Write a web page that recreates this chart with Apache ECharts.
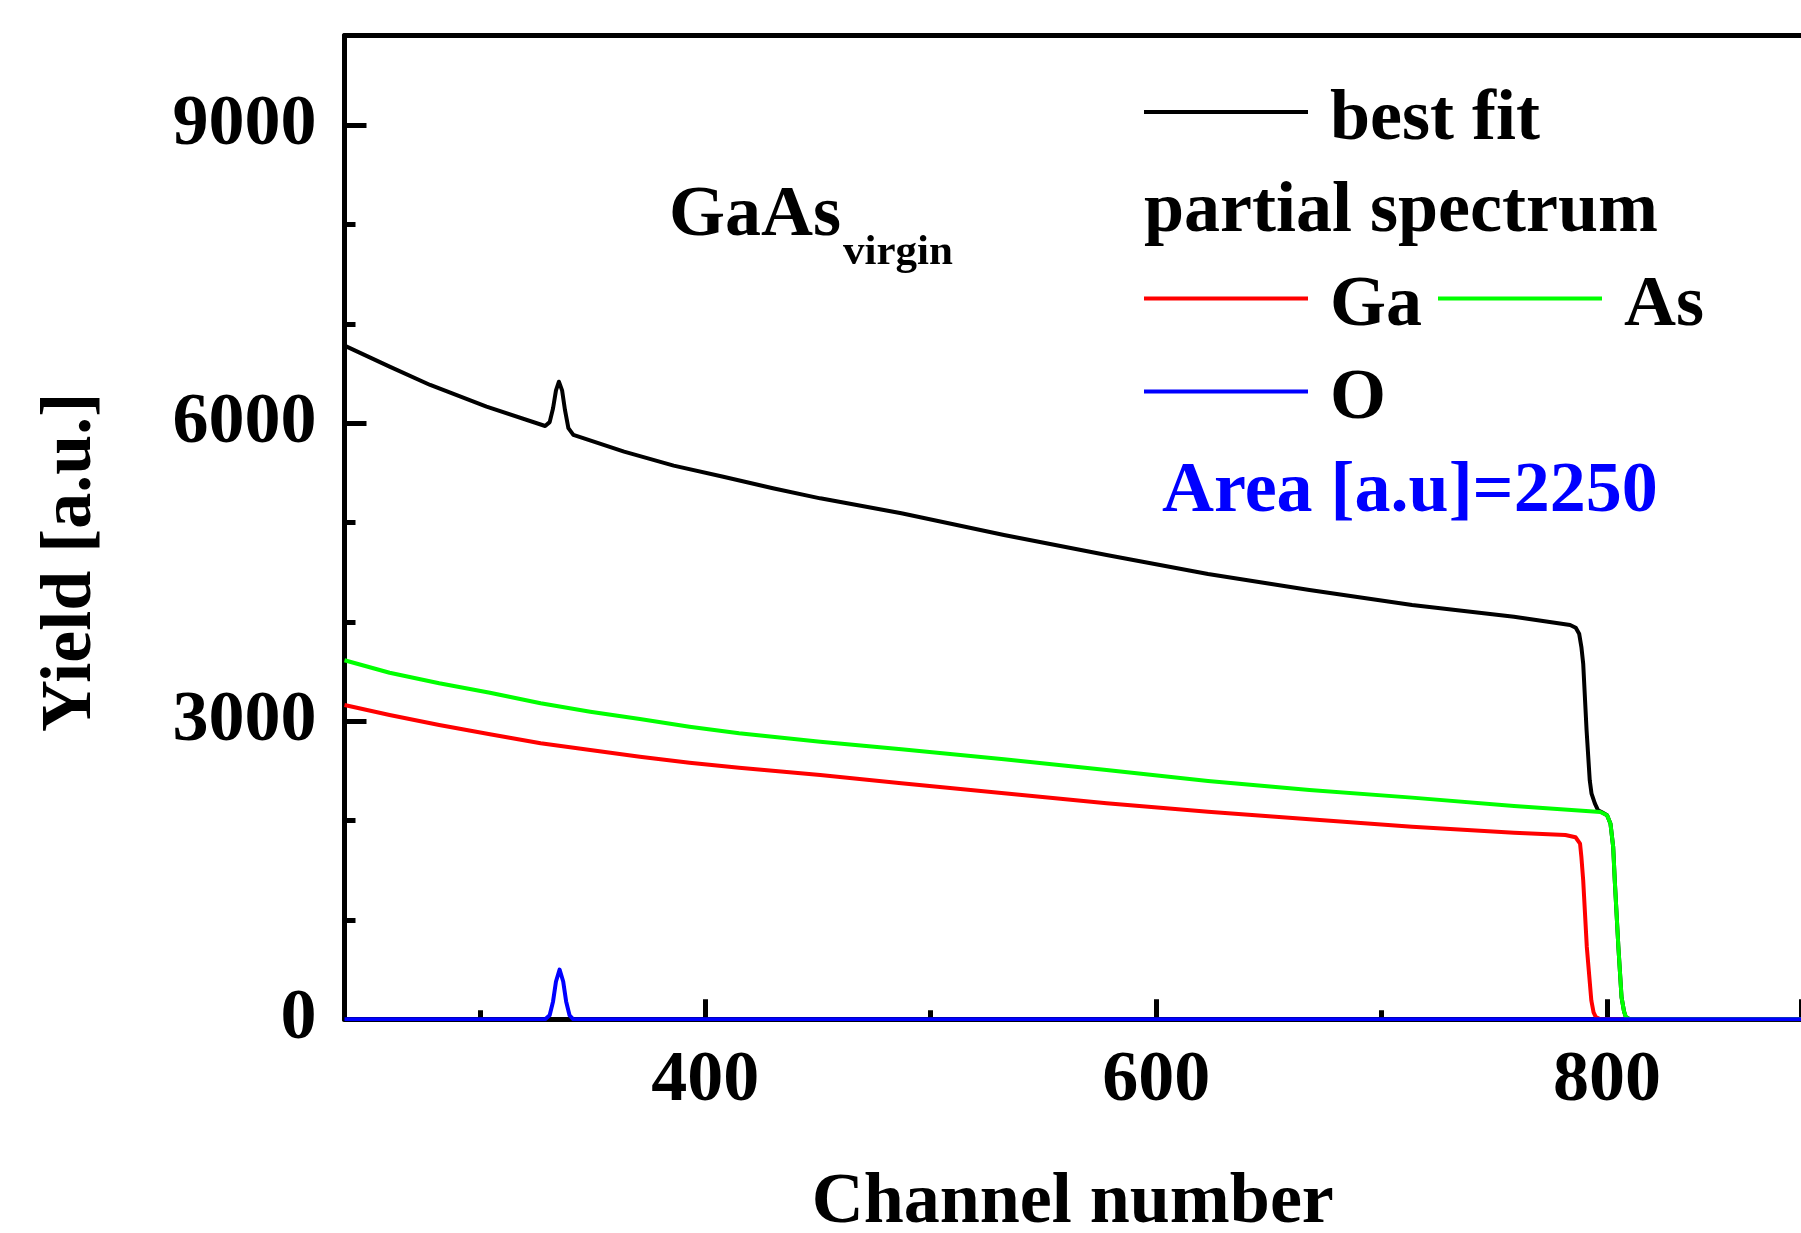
<!DOCTYPE html>
<html>
<head>
<meta charset="utf-8">
<script src="https://cdn.jsdelivr.net/npm/echarts@6/dist/echarts.min.js"></script>
<style>
  html, body { margin: 0; padding: 0; background: #fff; }
  #chart { width: 1801px; height: 1233px; }
</style>
</head>
<body>
<div id="chart"></div>
<script>
// channel / yield values
var bestCh    = [240, 260, 278, 303, 329, 331, 332.5, 333.8, 335.1, 336.5, 337.8, 339.3, 341.5, 364, 386, 408, 430, 451, 487, 532.5, 578, 623, 668, 713.5, 758.7, 783.6, 786.1, 787.6, 788.6, 789.4, 790.9, 792.3, 793.1, 794.6, 796, 797.5, 800, 801.5, 802.7, 803.4, 805, 806.4, 807.5, 808.3, 810, 886];
var bestYield = [6780, 6568, 6384, 6166, 5971, 6010, 6150, 6330, 6417, 6330, 6130, 5950, 5881, 5713, 5572, 5461, 5344, 5243, 5093, 4874, 4673, 4482, 4321, 4170, 4052, 3968, 3941, 3881, 3746, 3579, 2908, 2405, 2271, 2170, 2103, 2086, 2053, 1969, 1734, 1399, 728, 224, 80, 23, 0, 0];

var gaCh    = [240, 260, 282, 304.5, 327, 349, 371, 393, 415, 451, 487, 532.5, 578, 623, 668, 713.5, 758.7, 781.5, 786, 788, 788.6, 789.4, 791, 793, 794, 795, 797, 886];
var gaYield = [3163, 3063, 2962, 2868, 2778, 2710, 2643, 2583, 2532, 2459, 2375, 2275, 2174, 2089, 2013, 1938, 1878, 1855, 1832, 1768, 1633, 1399, 728, 191, 70, 23, 0, 0];

var asCh    = [240, 260, 282, 304.5, 327, 349, 371, 393, 415, 451, 487, 532.5, 578, 623, 668, 713.5, 758.7, 797, 800, 801.5, 802.7, 803.4, 805, 806.4, 807.5, 808.3, 810, 886];
var asYield = [3614, 3488, 3382, 3287, 3180, 3096, 3022, 2945, 2878, 2794, 2717, 2617, 2509, 2398, 2308, 2231, 2147, 2086, 2053, 1969, 1734, 1399, 728, 224, 80, 23, 0, 0];

var oCh    = [240, 329, 331, 332.5, 333.8, 335.4, 337, 338.3, 339.8, 341.5, 886];
var oYield = [0, 0, 40, 180, 380, 500, 380, 180, 40, 0, 0];

var xMajorLabels = [400, 600, 800];
var yMajorLabels = [0, 3000, 6000, 9000];

function zip(xs, ys) {
  return xs.map(function (x, i) { return [x, ys[i]]; });
}

var FONT = "'Times New Roman', 'Liberation Serif', serif";
var chart = echarts.init(document.getElementById('chart'));

// legend swatch sits 8px above the text centre, like the original figure
var SWATCH = 'path://M0,0H164V4H0Z M0,20L0,20';
var legendText = { fontFamily: FONT, fontWeight: 'bold', fontSize: 72, color: '#000', lineHeight: 72, padding: [0, 0, 0, 17] };

chart.setOption({
  animation: false,
  backgroundColor: '#fff',
  grid: { left: 344.5, top: 35.6, right: 0, bottom: 213.7, outerBoundsMode: 'none' },
  legend: [
    { data: ['best fit'], left: 1144, top: 84, padding: 0, icon: SWATCH, itemWidth: 164, itemHeight: 20, textStyle: legendText, selectedMode: false },
    { data: ['Ga', 'As'], left: 1144, top: 270.5, padding: 0, icon: SWATCH, itemWidth: 164, itemHeight: 20, itemGap: 16, textStyle: legendText, selectedMode: false },
    { data: ['O'], left: 1144, top: 363.5, padding: 0, icon: SWATCH, itemWidth: 164, itemHeight: 20, textStyle: legendText, selectedMode: false }
  ],
  xAxis: [
    {
      type: 'value', position: 'bottom', min: 240, max: 886,
      minInterval: 200, maxInterval: 200,
      name: 'Channel number', nameLocation: 'middle', nameGap: 148,
      nameTextStyle: { fontFamily: FONT, fontWeight: 'bold', fontSize: 72, color: '#000' },
      axisLine: { lineStyle: { color: '#000', width: 5 } },
      axisTick: { inside: true, length: 20, lineStyle: { color: '#000', width: 5 } },
      axisLabel: {
        margin: 26, fontFamily: FONT, fontWeight: 'bold', fontSize: 72, color: '#000',
        formatter: function (v) { return xMajorLabels.indexOf(v) >= 0 ? String(v) : ''; }
      },
      splitLine: { show: false }
    },
    {
      type: 'value', position: 'bottom', min: 240, max: 886,
      minInterval: 100, maxInterval: 100,
      axisLine: { show: false },
      axisTick: { inside: true, length: 9, lineStyle: { color: '#000', width: 5 } },
      axisLabel: { show: false },
      splitLine: { show: false }
    },
    {
      type: 'value', position: 'top', min: 240, max: 886,
      axisLine: { lineStyle: { color: '#000', width: 5 } },
      axisTick: { show: false }, axisLabel: { show: false }, splitLine: { show: false }
    }
  ],
  yAxis: [
    {
      type: 'value', position: 'left', min: 0, max: 9900, interval: 3000,
      name: 'Yield [a.u.]', nameLocation: 'middle', nameGap: 237, nameRotate: 90,
      nameTextStyle: { fontFamily: FONT, fontWeight: 'bold', fontSize: 72, color: '#000', padding: [0, 70, 0, 0] },
      axisLine: { lineStyle: { color: '#000', width: 5 } },
      axisTick: { inside: true, length: 22, lineStyle: { color: '#000', width: 5 } },
      axisLabel: {
        margin: 28, fontFamily: FONT, fontWeight: 'bold', fontSize: 72, color: '#000',
        formatter: function (v) { return yMajorLabels.indexOf(v) >= 0 ? String(v) : ''; }
      },
      splitLine: { show: false }
    },
    {
      type: 'value', position: 'left', min: 0, max: 9900, interval: 1000,
      axisLine: { show: false },
      axisTick: { inside: true, length: 11, lineStyle: { color: '#000', width: 5 } },
      axisLabel: { show: false },
      splitLine: { show: false }
    }
  ],
  graphic: [
    { type: 'text', left: 669, top: 180.5, style: { text: 'GaAs', fontFamily: FONT, fontWeight: 'bold', fontSize: 72, fill: '#000' } },
    { type: 'text', left: 843, top: 231.5, style: { text: 'virgin', fontFamily: FONT, fontWeight: 'bold', fontSize: 43, fill: '#000' } },
    { type: 'text', left: 1144, top: 176, style: { text: 'partial spectrum', fontFamily: FONT, fontWeight: 'bold', fontSize: 72, fill: '#000' } },
    { type: 'text', left: 1162, top: 456, style: { text: 'Area [a.u]=2250', fontFamily: FONT, fontWeight: 'bold', fontSize: 72, fill: '#0000ff' } }
  ],
  series: [
    {
      name: 'best fit', type: 'line', xAxisIndex: 0, yAxisIndex: 0, data: zip(bestCh, bestYield),
      showSymbol: false, smooth: false,
      lineStyle: { color: '#000', width: 4, join: 'round' }, itemStyle: { color: '#000' }
    },
    {
      name: 'Ga', type: 'line', xAxisIndex: 0, yAxisIndex: 0, data: zip(gaCh, gaYield),
      showSymbol: false, smooth: false,
      lineStyle: { color: '#ff0000', width: 4, join: 'round' }, itemStyle: { color: '#ff0000' }
    },
    {
      name: 'As', type: 'line', xAxisIndex: 0, yAxisIndex: 0, data: zip(asCh, asYield),
      showSymbol: false, smooth: false,
      lineStyle: { color: '#00ff00', width: 4, join: 'round' }, itemStyle: { color: '#00ff00' }
    },
    {
      name: 'O', type: 'line', xAxisIndex: 0, yAxisIndex: 0, data: zip(oCh, oYield),
      showSymbol: false, smooth: false,
      lineStyle: { color: '#0000ff', width: 4, join: 'round' }, itemStyle: { color: '#0000ff' }
    }
  ]
});
</script>
</body>
</html>
